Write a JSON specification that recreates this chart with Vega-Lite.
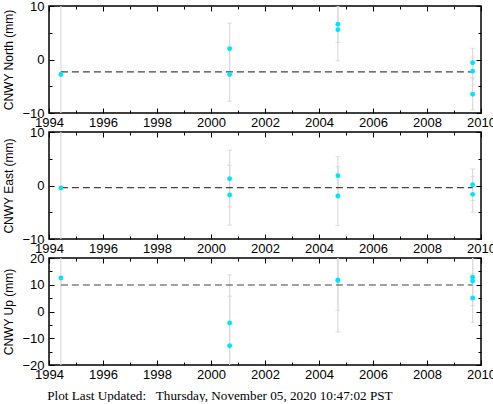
{
  "$schema": "https://vega.github.io/schema/vega-lite/v6.json",
  "padding": {"left": 2, "top": -1, "right": 5, "bottom": 0},
  "background": "white",
  "datasets": {
    "pts": [
      {"c": "North", "t": 1994.44, "v": -2.8, "lo": -25, "hi": 20},
      {"c": "North", "t": 2000.69, "v": 2.0, "lo": -2.8, "hi": 6.8},
      {"c": "North", "t": 2000.69, "v": -2.8, "lo": -7.8, "hi": 2.2},
      {"c": "North", "t": 2004.70, "v": 6.6, "lo": 3.2, "hi": 10.0},
      {"c": "North", "t": 2004.70, "v": 5.55, "lo": -0.25, "hi": 11.35},
      {"c": "North", "t": 2009.69, "v": -0.6, "lo": -3.3, "hi": 2.1},
      {"c": "North", "t": 2009.69, "v": -2.2, "lo": -4.8, "hi": 0.4},
      {"c": "North", "t": 2009.69, "v": -6.5, "lo": -9.4, "hi": -3.6},
      {"c": "East", "t": 1994.44, "v": -0.47, "lo": -30, "hi": 30},
      {"c": "East", "t": 2000.69, "v": 1.27, "lo": -4.0, "hi": 6.6},
      {"c": "East", "t": 2000.69, "v": -1.78, "lo": -7.4, "hi": 3.8},
      {"c": "East", "t": 2004.70, "v": 1.83, "lo": -1.8, "hi": 5.4},
      {"c": "East", "t": 2004.70, "v": -1.96, "lo": -7.5, "hi": 3.5},
      {"c": "East", "t": 2009.69, "v": 0.15, "lo": -2.8, "hi": 3.1},
      {"c": "East", "t": 2009.69, "v": -1.65, "lo": -5.0, "hi": 1.7},
      {"c": "Up", "t": 1994.44, "v": 12.5, "lo": -60, "hi": 80},
      {"c": "Up", "t": 2000.69, "v": -4.3, "lo": -22.3, "hi": 13.7},
      {"c": "Up", "t": 2000.69, "v": -12.8, "lo": -31.3, "hi": 5.7},
      {"c": "Up", "t": 2004.70, "v": 11.8, "lo": 0.5, "hi": 23.1},
      {"c": "Up", "t": 2004.70, "v": 11.6, "lo": -7.7, "hi": 30.9},
      {"c": "Up", "t": 2009.69, "v": 12.8, "lo": 4.3, "hi": 21.3},
      {"c": "Up", "t": 2009.69, "v": 11.4, "lo": 2.2, "hi": 20.6},
      {"c": "Up", "t": 2009.69, "v": 5.05, "lo": -4.1, "hi": 14.1}
    ],
    "means": [
      {"c": "North", "t0": 1994.44, "t1": 2009.69, "m": -2.3},
      {"c": "East", "t0": 1994.44, "t1": 2009.69, "m": -0.4},
      {"c": "Up", "t0": 1994.44, "t1": 2009.69, "m": 9.9}
    ]
  },
  "title": {
    "text": "Plot Last Updated:\u00a0\u00a0 Thursday, November 05, 2020 10:47:02 PST",
    "orient": "bottom",
    "anchor": "start",
    "font": "Liberation Serif",
    "fontSize": 13.2,
    "fontWeight": "normal",
    "color": "black",
    "offset": 6,
    "dx": 45
  },
  "spacing": -7,
  "vconcat": [
    {
      "width": 432,
      "height": 107,
      "resolve": {"axis": {"x": "independent", "y": "independent"}},
      "layer": [
        {
          "data": {"name": "pts"},
          "transform": [{"filter": "datum.c === 'North'"}],
          "mark": {"type": "rule", "color": "#dcdcdc", "strokeWidth": 1.2, "clip": true},
          "encoding": {
            "x": {"field": "t", "type": "quantitative", "scale": {"domain": [1994, 2010], "nice": false, "zero": false},
              "axis": {"orient": "bottom", "values": [1994,1995,1996,1997,1998,1999,2000,2001,2002,2003,2004,2005,2006,2007,2008,2009,2010], "format": "d", "labelExpr": "datum.value % 2 === 0 ? datum.label : ''", "tickSize": {"condition": {"test": "datum.value % 2 === 0", "value": -5}, "value": -3}, "labelPadding": 8, "labelFlush": false, "title": null}},
            "y": {"field": "lo", "type": "quantitative", "scale": {"domain": [-10, 10], "nice": false, "zero": false},
              "axis": {"orient": "left", "values": [-10,-5,0,5,10], "labelExpr": "datum.value % 10 === 0 ? datum.label : ''", "tickSize": {"condition": {"test": "datum.value % 10 === 0", "value": -5}, "value": -3}, "labelPadding": 10, "title": "CNWY North (mm)"}},
            "y2": {"field": "hi"}
          }
        },
        {
          "data": {"name": "pts"},
          "transform": [{"filter": "datum.c === 'North'"}],
          "mark": {"type": "tick", "orient": "horizontal", "size": 5, "thickness": 1, "color": "#d4d4d4", "clip": true},
          "encoding": {
            "x": {"field": "t", "type": "quantitative", "axis": null},
            "y": {"field": "lo", "type": "quantitative", "axis": null}
          }
        },
        {
          "data": {"name": "pts"},
          "transform": [{"filter": "datum.c === 'North'"}],
          "mark": {"type": "tick", "orient": "horizontal", "size": 5, "thickness": 1, "color": "#d4d4d4", "clip": true},
          "encoding": {
            "x": {"field": "t", "type": "quantitative", "axis": null},
            "y": {"field": "hi", "type": "quantitative", "axis": null}
          }
        },
        {
          "data": {"name": "means"},
          "transform": [{"filter": "datum.c === 'North'"}],
          "mark": {"type": "rule", "color": "#444444", "strokeWidth": 1.2, "strokeDash": [7, 4]},
          "encoding": {
            "x": {"field": "t0", "type": "quantitative", "axis": null},
            "x2": {"field": "t1"},
            "y": {"field": "m", "type": "quantitative", "axis": null}
          }
        },
        {
          "data": {"name": "pts"},
          "transform": [{"filter": "datum.c === 'North'"}],
          "mark": {"type": "circle", "size": 24, "color": "#00e5ff", "opacity": 1},
          "encoding": {
            "x": {"field": "t", "type": "quantitative",
              "axis": {"orient": "top", "values": [1994,1995,1996,1997,1998,1999,2000,2001,2002,2003,2004,2005,2006,2007,2008,2009,2010], "labels": false, "tickSize": {"condition": {"test": "datum.value % 2 === 0", "value": -5}, "value": -3}, "title": null}},
            "y": {"field": "v", "type": "quantitative",
              "axis": {"orient": "right", "values": [-10,-5,0,5,10], "labels": false, "tickSize": {"condition": {"test": "datum.value % 10 === 0", "value": -5}, "value": -3}, "title": null}}
          }
        }
      ]
    },
    {
      "width": 432,
      "height": 107,
      "resolve": {"axis": {"x": "independent", "y": "independent"}},
      "layer": [
        {
          "data": {"name": "pts"},
          "transform": [{"filter": "datum.c === 'East'"}],
          "mark": {"type": "rule", "color": "#dcdcdc", "strokeWidth": 1.2, "clip": true},
          "encoding": {
            "x": {"field": "t", "type": "quantitative", "scale": {"domain": [1994, 2010], "nice": false, "zero": false},
              "axis": {"orient": "bottom", "values": [1994,1995,1996,1997,1998,1999,2000,2001,2002,2003,2004,2005,2006,2007,2008,2009,2010], "format": "d", "labelExpr": "datum.value % 2 === 0 ? datum.label : ''", "tickSize": {"condition": {"test": "datum.value % 2 === 0", "value": -5}, "value": -3}, "labelPadding": 8, "labelFlush": false, "title": null}},
            "y": {"field": "lo", "type": "quantitative", "scale": {"domain": [-10, 10], "nice": false, "zero": false},
              "axis": {"orient": "left", "values": [-10,-5,0,5,10], "labelExpr": "datum.value % 10 === 0 ? datum.label : ''", "tickSize": {"condition": {"test": "datum.value % 10 === 0", "value": -5}, "value": -3}, "labelPadding": 10, "title": "CNWY East (mm)"}},
            "y2": {"field": "hi"}
          }
        },
        {
          "data": {"name": "pts"},
          "transform": [{"filter": "datum.c === 'East'"}],
          "mark": {"type": "tick", "orient": "horizontal", "size": 5, "thickness": 1, "color": "#d4d4d4", "clip": true},
          "encoding": {
            "x": {"field": "t", "type": "quantitative", "axis": null},
            "y": {"field": "lo", "type": "quantitative", "axis": null}
          }
        },
        {
          "data": {"name": "pts"},
          "transform": [{"filter": "datum.c === 'East'"}],
          "mark": {"type": "tick", "orient": "horizontal", "size": 5, "thickness": 1, "color": "#d4d4d4", "clip": true},
          "encoding": {
            "x": {"field": "t", "type": "quantitative", "axis": null},
            "y": {"field": "hi", "type": "quantitative", "axis": null}
          }
        },
        {
          "data": {"name": "means"},
          "transform": [{"filter": "datum.c === 'East'"}],
          "mark": {"type": "rule", "color": "#444444", "strokeWidth": 1.2, "strokeDash": [7, 4]},
          "encoding": {
            "x": {"field": "t0", "type": "quantitative", "axis": null},
            "x2": {"field": "t1"},
            "y": {"field": "m", "type": "quantitative", "axis": null}
          }
        },
        {
          "data": {"name": "pts"},
          "transform": [{"filter": "datum.c === 'East'"}],
          "mark": {"type": "circle", "size": 24, "color": "#00e5ff", "opacity": 1},
          "encoding": {
            "x": {"field": "t", "type": "quantitative",
              "axis": {"orient": "top", "values": [1994,1995,1996,1997,1998,1999,2000,2001,2002,2003,2004,2005,2006,2007,2008,2009,2010], "labels": false, "tickSize": {"condition": {"test": "datum.value % 2 === 0", "value": -5}, "value": -3}, "title": null}},
            "y": {"field": "v", "type": "quantitative",
              "axis": {"orient": "right", "values": [-10,-5,0,5,10], "labels": false, "tickSize": {"condition": {"test": "datum.value % 10 === 0", "value": -5}, "value": -3}, "title": null}}
          }
        }
      ]
    },
    {
      "width": 432,
      "height": 107,
      "resolve": {"axis": {"x": "independent", "y": "independent"}},
      "layer": [
        {
          "data": {"name": "pts"},
          "transform": [{"filter": "datum.c === 'Up'"}],
          "mark": {"type": "rule", "color": "#dcdcdc", "strokeWidth": 1.2, "clip": true},
          "encoding": {
            "x": {"field": "t", "type": "quantitative", "scale": {"domain": [1994, 2010], "nice": false, "zero": false},
              "axis": {"orient": "bottom", "values": [1994,1995,1996,1997,1998,1999,2000,2001,2002,2003,2004,2005,2006,2007,2008,2009,2010], "format": "d", "labelExpr": "datum.value % 2 === 0 ? datum.label : ''", "tickSize": {"condition": {"test": "datum.value % 2 === 0", "value": -5}, "value": -3}, "labelPadding": 8, "labelFlush": false, "title": null}},
            "y": {"field": "lo", "type": "quantitative", "scale": {"domain": [-20, 20], "nice": false, "zero": false},
              "axis": {"orient": "left", "values": [-20,-15,-10,-5,0,5,10,15,20], "labelExpr": "datum.value % 10 === 0 ? datum.label : ''", "tickSize": {"condition": {"test": "datum.value % 10 === 0", "value": -5}, "value": -3}, "labelPadding": 10, "title": "CNWY Up (mm)"}},
            "y2": {"field": "hi"}
          }
        },
        {
          "data": {"name": "pts"},
          "transform": [{"filter": "datum.c === 'Up'"}],
          "mark": {"type": "tick", "orient": "horizontal", "size": 5, "thickness": 1, "color": "#d4d4d4", "clip": true},
          "encoding": {
            "x": {"field": "t", "type": "quantitative", "axis": null},
            "y": {"field": "lo", "type": "quantitative", "axis": null}
          }
        },
        {
          "data": {"name": "pts"},
          "transform": [{"filter": "datum.c === 'Up'"}],
          "mark": {"type": "tick", "orient": "horizontal", "size": 5, "thickness": 1, "color": "#d4d4d4", "clip": true},
          "encoding": {
            "x": {"field": "t", "type": "quantitative", "axis": null},
            "y": {"field": "hi", "type": "quantitative", "axis": null}
          }
        },
        {
          "data": {"name": "means"},
          "transform": [{"filter": "datum.c === 'Up'"}],
          "mark": {"type": "rule", "color": "#444444", "strokeWidth": 1.2, "strokeDash": [7, 4]},
          "encoding": {
            "x": {"field": "t0", "type": "quantitative", "axis": null},
            "x2": {"field": "t1"},
            "y": {"field": "m", "type": "quantitative", "axis": null}
          }
        },
        {
          "data": {"name": "pts"},
          "transform": [{"filter": "datum.c === 'Up'"}],
          "mark": {"type": "circle", "size": 24, "color": "#00e5ff", "opacity": 1},
          "encoding": {
            "x": {"field": "t", "type": "quantitative",
              "axis": {"orient": "top", "values": [1994,1995,1996,1997,1998,1999,2000,2001,2002,2003,2004,2005,2006,2007,2008,2009,2010], "labels": false, "tickSize": {"condition": {"test": "datum.value % 2 === 0", "value": -5}, "value": -3}, "title": null}},
            "y": {"field": "v", "type": "quantitative",
              "axis": {"orient": "right", "values": [-20,-15,-10,-5,0,5,10,15,20], "labels": false, "tickSize": {"condition": {"test": "datum.value % 10 === 0", "value": -5}, "value": -3}, "title": null}}
          }
        }
      ]
    }
  ],
  "config": {
    "font": "Liberation Sans",
    "view": {"stroke": "black", "strokeWidth": 1.5},
    "axis": {
      "domain": false,
      "grid": false,
      "tickColor": "black",
      "tickWidth": 1,
      "labelColor": "black",
      "labelFont": "Liberation Sans",
      "labelFontSize": 13,
      "labelOverlap": false,
      "titleFont": "Liberation Sans",
      "titleFontSize": 12,
      "titleFontWeight": "normal",
      "titleColor": "black",
      "titlePadding": 6
    }
  }
}
